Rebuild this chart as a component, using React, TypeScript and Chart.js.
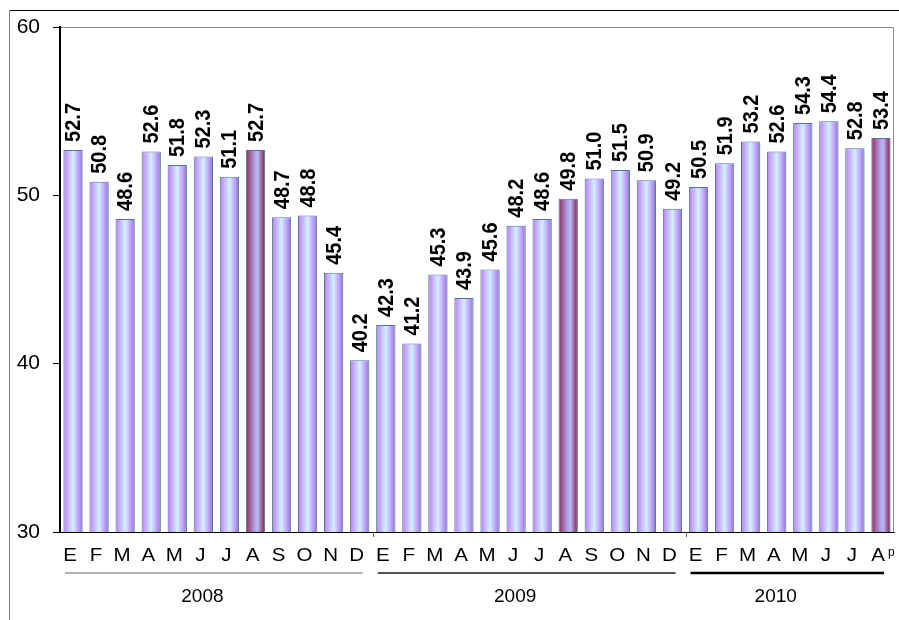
import { useEffect, useRef } from "react";
import { Chart, registerables } from "chart.js";

Chart.register(...registerables);

const monthLetters = ["E", "F", "M", "A", "M", "J", "J", "A", "S", "O", "N", "D"];
const years = ["2008", "2009", "2010"];
const monthsPerYear = [12, 12, 8];
const values2008 = [52.7, 50.8, 48.6, 52.6, 51.8, 52.3, 51.1, 52.7, 48.7, 48.8, 45.4, 40.2];
const values2009 = [42.3, 41.2, 45.3, 43.9, 45.6, 48.2, 48.6, 49.8, 51.0, 51.5, 50.9, 49.2];
const values2010 = [50.5, 51.9, 53.2, 52.6, 54.3, 54.4, 52.8, 53.4];
const highlightedIndexes = [7, 19, 31];
const provisionalMark = "p";
const yMin = 30;
const yMax = 60;
const yStep = 10;

const categories: string[] = [];
monthsPerYear.forEach((n) => {
  for (let i = 0; i < n; i++) categories.push(monthLetters[i]);
});
const allValues = [...values2008, ...values2009, ...values2010];

const FONT = 'Arial, "Liberation Sans", sans-serif';
const BAR_PCT = 0.74;

function barGradient(chart: any, index: number) {
  const xs = chart.scales?.x;
  const hl = highlightedIndexes.includes(index);
  const fallback = hl ? "#a05c90" : "#c6a2fc";
  if (!xs) return fallback;
  const p0 = xs.getPixelForValue(0);
  const p1 = xs.getPixelForValue(1);
  const cx = xs.getPixelForValue(index);
  const step = p1 - p0;
  const w = step * BAR_PCT;
  if (![p0, p1, cx, w].every((v) => Number.isFinite(v)) || w <= 0) return fallback;
  const g = chart.ctx.createLinearGradient(cx - w / 2, 0, cx + w / 2, 0);
  if (hl) {
    g.addColorStop(0, "#762c60");
    g.addColorStop(0.15, "#9c5088");
    g.addColorStop(0.45, "#ae9ee4");
    g.addColorStop(0.62, "#b6bcf4");
    g.addColorStop(0.85, "#9c5088");
    g.addColorStop(1, "#702a5e");
  } else {
    g.addColorStop(0, "#a080e6");
    g.addColorStop(0.12, "#c398fc");
    g.addColorStop(0.5, "#d2f0ff");
    g.addColorStop(0.8, "#c09afc");
    g.addColorStop(0.93, "#9484dc");
    g.addColorStop(1, "#7676b8");
  }
  return g;
}

const decorPlugin = {
  id: "decor",
  afterDatasetsDraw(chart: any) {
    const ctx = chart.ctx;
    const meta = chart.getDatasetMeta(0);
    ctx.save();
    ctx.fillStyle = "#000";
    ctx.font = `bold 20px ${FONT}`;
    ctx.textAlign = "left";
    ctx.textBaseline = "middle";
    meta.data.forEach((el: any, i: number) => {
      const v = allValues[i];
      ctx.save();
      ctx.translate(el.x + 1, el.y - 8);
      ctx.rotate(-Math.PI / 2);
      ctx.scale(1, 1.1);
      ctx.fillText(v.toFixed(1), 0, 0);
      ctx.restore();
    });
    ctx.restore();
  },
  afterDraw(chart: any) {
    const ctx = chart.ctx;
    const xs = chart.scales.x;
    const ca = chart.chartArea;
    const W = chart.width;
    const H = chart.height;
    ctx.save();
    // outer frame
    ctx.lineWidth = 1;
    ctx.strokeStyle = "#000";
    ctx.beginPath();
    ctx.moveTo(9, 10.5);
    ctx.lineTo(W, 10.5);
    ctx.stroke();
    ctx.strokeStyle = "#808080";
    ctx.beginPath();
    ctx.moveTo(9.5, 10);
    ctx.lineTo(9.5, H);
    ctx.stroke();
    // plot area border top/right
    ctx.strokeStyle = "#8c8c8c";
    ctx.beginPath();
    ctx.moveTo(ca.left + 1, ca.top + 0.5);
    ctx.lineTo(ca.right - 0.5, ca.top + 0.5);
    ctx.lineTo(ca.right - 0.5, ca.bottom);
    ctx.stroke();

    const step = xs.getPixelForValue(1) - xs.getPixelForValue(0);
    // year boundary ticks
    ctx.strokeStyle = "#666";
    let acc = 0;
    monthsPerYear.forEach((n, yi) => {
      if (yi > 0) {
        const bx = Math.round(xs.getPixelForValue(acc) - step / 2) + 0.5;
        ctx.beginPath();
        ctx.moveTo(bx, ca.bottom);
        ctx.lineTo(bx, ca.bottom + 5);
        ctx.stroke();
      }
      acc += n;
    });

    // month labels
    ctx.fillStyle = "#000";
    ctx.textAlign = "center";
    ctx.textBaseline = "alphabetic";
    categories.forEach((c, i) => {
      const x = xs.getPixelForValue(i) - 3;
      ctx.save();
      ctx.translate(x, ca.bottom + 29);
      ctx.scale(1.08, 1);
      ctx.font = `19px ${FONT}`;
      ctx.fillText(c, 0, 0);
      ctx.restore();
      if (i === categories.length - 1) {
        ctx.save();
        ctx.font = `12px ${FONT}`;
        ctx.textAlign = "left";
        ctx.fillText(provisionalMark, x + 10, ca.bottom + 24);
        ctx.restore();
      }
    });

    // year lines & labels
    const lineStyles = [
      { color: "#6a6a6a", width: 1 },
      { color: "#1a1a1a", width: 1.5 },
      { color: "#000", width: 2.5 },
    ];
    acc = 0;
    monthsPerYear.forEach((n, yi) => {
      const first = xs.getPixelForValue(acc);
      const last = xs.getPixelForValue(acc + n - 1);
      const ly = ca.bottom + 41;
      ctx.strokeStyle = lineStyles[yi].color;
      ctx.lineWidth = lineStyles[yi].width;
      ctx.beginPath();
      ctx.moveTo(first - 8, ly);
      ctx.lineTo(last + 3, ly);
      ctx.stroke();
      ctx.fillStyle = "#000";
      ctx.font = `19px ${FONT}`;
      ctx.textAlign = "center";
      ctx.fillText(years[yi], (first + last) / 2 - 14, ca.bottom + 70);
      acc += n;
    });
    ctx.restore();
  },
};

export default function App() {
  const ref = useRef<HTMLCanvasElement | null>(null);
  useEffect(() => {
    if (!ref.current) return;
    const chart = new Chart(ref.current, {
      type: "bar",
      data: {
        labels: categories,
        datasets: [
          {
            data: allValues,
            backgroundColor: (c: any) => barGradient(c.chart, c.dataIndex),
            borderColor: "#4f7a82",
            borderWidth: 1,
            categoryPercentage: 1,
            barPercentage: BAR_PCT,
          },
        ],
      },
      options: {
        responsive: false,
        animation: false,
        devicePixelRatio: 1,
        layout: { padding: { left: 0, top: 27, right: 5, bottom: 0 } },
        plugins: {
          legend: { display: false },
          tooltip: { enabled: false },
          title: { display: false },
        },
        scales: {
          x: {
            type: "category",
            grid: { display: false },
            border: { display: true, color: "#000", width: 1 },
            ticks: { display: false },
            afterFit: (s: any) => {
              s.height = 88;
            },
          },
          y: {
            type: "linear",
            min: yMin,
            max: yMax,
            ticks: {
              stepSize: yStep,
              color: "#000",
              padding: 13,
              font: { family: FONT, size: 21 },
            },
            grid: {
              display: true,
              drawOnChartArea: false,
              drawTicks: true,
              tickLength: 7,
              color: "#000",
            },
            border: { display: true, color: "#000", width: 2 },
            afterFit: (s: any) => {
              s.width = 60;
            },
          },
        },
      },
      plugins: [decorPlugin],
    });
    return () => chart.destroy();
  }, []);
  return (
    <div style={{ position: "absolute", left: 0, top: 0, width: 899, height: 620, background: "#fff" }}>
      <canvas ref={ref} width={899} height={620} style={{ width: 899, height: 620, display: "block" }} />
    </div>
  );
}
